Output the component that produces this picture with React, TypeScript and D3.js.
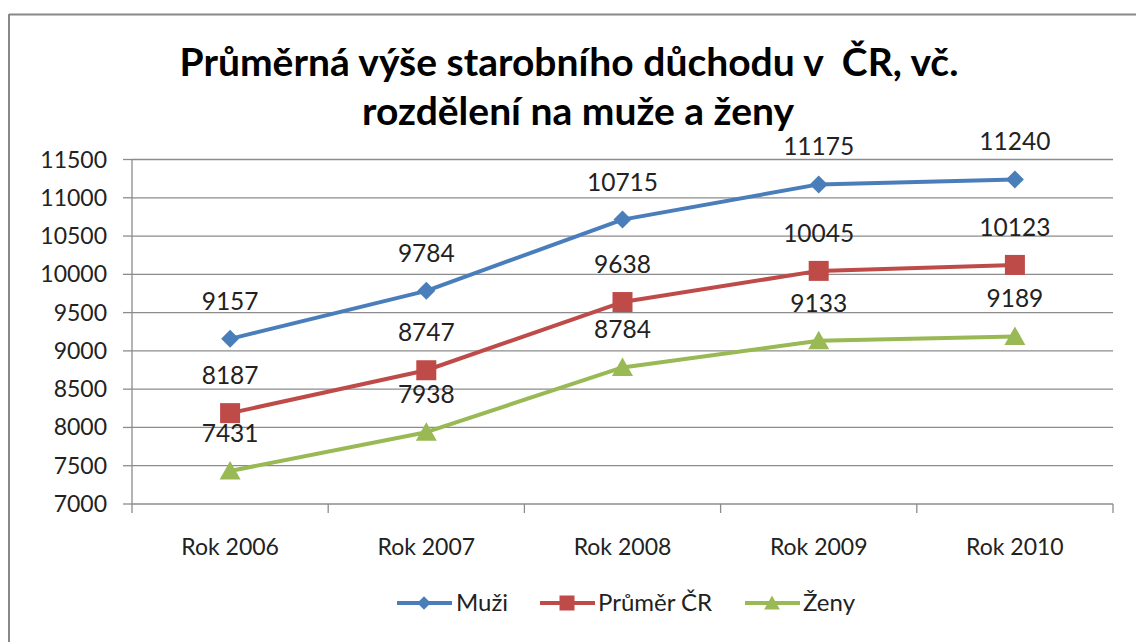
import React from "react";
import * as d3 from "d3";

const categories = ["Rok 2006", "Rok 2007", "Rok 2008", "Rok 2009", "Rok 2010"];
const muzi = [9157, 9784, 10715, 11175, 11240];
const prumer = [8187, 8747, 9638, 10045, 10123];
const zeny = [7431, 7938, 8784, 9133, 9189];
const yTicks = [7000, 7500, 8000, 8500, 9000, 9500, 10000, 10500, 11000, 11500];
const seriesNames = ["Muži", "Průměr ČR", "Ženy"];
const titleLines = ["Průměrná výše starobního důchodu v  ČR, vč.", "rozdělení na muže a ženy"];

const W = 1136, H = 642;
const L = 132, R = 1113, T = 159.5, B = 504;
const FONT = "Lato, 'Open Sans', sans-serif";
const colors = ["#4A7EBB", "#BE4B48", "#98B954"];

export default function App() {
  const x = d3.scaleBand().domain(categories).range([L, R]);
  const y = d3.scaleLinear().domain([7000, 11500]).range([B, T]);
  const line = d3.line<number>().x((_, i) => x(categories[i])! + x.bandwidth() / 2).y((d) => y(d));
  const data = [muzi, prumer, zeny];

  const marker = (k: number, cx: number, cy: number, s = 1) => {
    if (k === 0) {
      const r = 9 * s;
      return <path d={`M${cx},${cy - r}L${cx + r},${cy}L${cx},${cy + r}L${cx - r},${cy}Z`} fill={colors[0]} />;
    }
    if (k === 1) {
      const r = 10 * s;
      return <rect x={cx - r} y={cy - r} width={2 * r} height={2 * r} fill={colors[1]} />;
    }
    const r = 10 * s;
    return <path d={`M${cx},${cy - r}L${cx + r * 1.05},${cy + r * 0.85}L${cx - r * 1.05},${cy + r * 0.85}Z`} fill={colors[2]} />;
  };

  const legendItems = [
    { lx: 397, tx: 456 },
    { lx: 540, tx: 598 },
    { lx: 745, tx: 803 },
  ];
  const ly = 603;

  return (
    <svg width={W} height={H} style={{ position: "absolute", left: 0, top: 0, background: "#fff" }} fontFamily={FONT}>
      <rect x={0} y={0} width={W} height={H} fill="#fff" />
      <line x1={9} y1={14.5} x2={W} y2={14.5} stroke="#888" strokeWidth={2} />
      <line x1={9} y1={14} x2={9} y2={H} stroke="#888" strokeWidth={2} />
      {titleLines.map((t, i) => (
        <text key={i} x={i === 0 ? 569 : 578} y={76 + i * 49} textAnchor="middle" fontSize={39} fontWeight="bold" fill="#000" style={{ whiteSpace: "pre" }}>
          {t}
        </text>
      ))}
      {yTicks.map((v) => (
        <g key={v}>
          <line x1={L} x2={R} y1={y(v)} y2={y(v)} stroke="#8c8c8c" strokeWidth={1.3} />
          <line x1={L - 9} x2={L} y1={y(v)} y2={y(v)} stroke="#8c8c8c" strokeWidth={1.3} />
          <text x={107} y={y(v) + 8} textAnchor="end" fontSize={23} fill="#222">
            {v}
          </text>
        </g>
      ))}
      <line x1={L} x2={L} y1={T} y2={B} stroke="#8c8c8c" strokeWidth={1.3} />
      {[...categories.map((c) => x(c)!), R].map((v, i) => (
        <line key={i} x1={v} x2={v} y1={B} y2={B + 9} stroke="#8c8c8c" strokeWidth={1.3} />
      ))}
      {categories.map((c) => (
        <text key={c} x={x(c)! + x.bandwidth() / 2} y={555} textAnchor="middle" fontSize={23} fill="#222">
          {c}
        </text>
      ))}
      {data.map((s, k) => (
        <g key={k}>
          <path d={line(s)!} fill="none" stroke={colors[k]} strokeWidth={4} strokeLinejoin="round" />
          {s.map((v, i) => (
            <g key={i}>{marker(k, x(categories[i])! + x.bandwidth() / 2, y(v))}</g>
          ))}
          {s.map((v, i) => (
            <text key={"t" + i} x={x(categories[i])! + x.bandwidth() / 2} y={y(v) - 29} textAnchor="middle" fontSize={24.5} fill="#222">
              {v}
            </text>
          ))}
        </g>
      ))}
      {legendItems.map((it, k) => (
        <g key={k}>
          <line x1={it.lx} x2={it.lx + 55} y1={ly} y2={ly} stroke={colors[k]} strokeWidth={4} />
          {marker(k, it.lx + 27, ly, 0.75)}
          <text x={it.tx} y={ly + 8} fontSize={24} fill="#222">
            {seriesNames[k]}
          </text>
        </g>
      ))}
    </svg>
  );
}
